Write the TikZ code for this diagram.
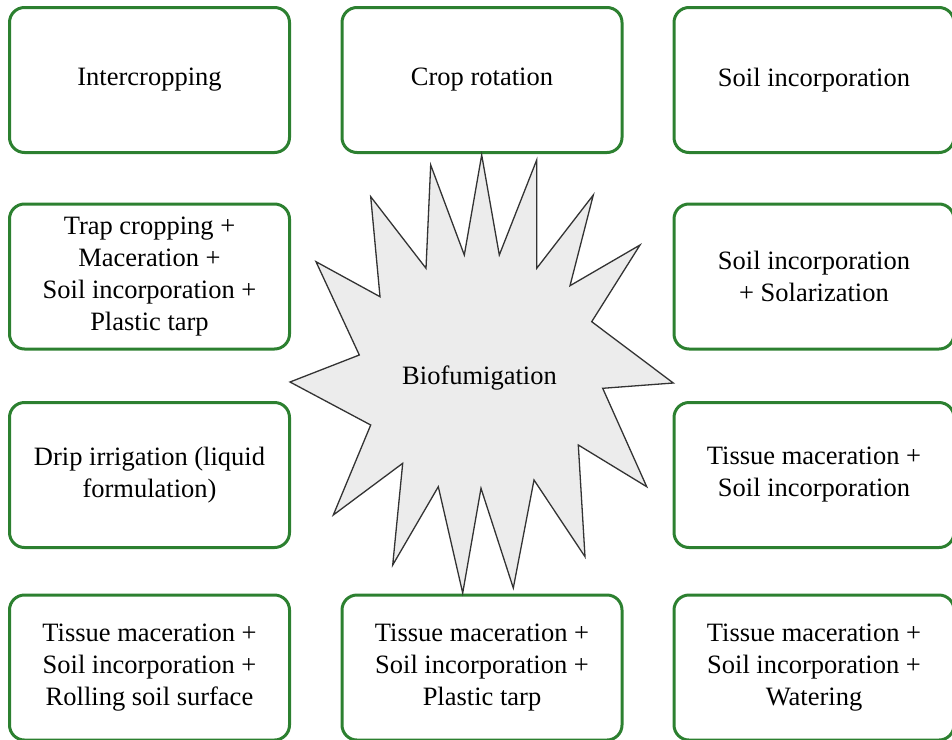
\documentclass[tikz,border=0pt]{standalone}
\usepackage{fontspec}
\setmainfont{Liberation Serif}
\definecolor{boxgreen}{RGB}{44,128,48}
\definecolor{starfill}{RGB}{236,236,236}
\begin{document}
\begin{tikzpicture}[x=1pt, y=-1pt,
  box/.style={draw=boxgreen, line width=3pt, rounded corners=15pt, align=center,
    minimum width=280pt, minimum height=145pt, inner sep=0pt,
    font=\fontsize{26.5}{32}\selectfont},
  burst/.style={draw=black!80, line width=1.3pt, fill=starfill, line join=miter}]
\clip (0,0) rectangle (952,739);
\node[box] (a) at (149.5,80) {Intercropping};
\node[box] (b) at (482,80) {Crop rotation};
\node[box] (c) at (814,80) {Soil incorporation};
\node[box] (d) at (149.5,276.5) {Trap cropping +\\Maceration +\\Soil incorporation +\\Plastic tarp};
\node[box] (e) at (814,276.5) {Soil incorporation\\+ Solarization};
\node[box] (f) at (149.5,475) {Drip irrigation (liquid\\formulation)};
\node[box] (g) at (814,475) {Tissue maceration +\\Soil incorporation};
\node[box] (h) at (149.5,667.5) {Tissue maceration +\\Soil incorporation +\\Rolling soil surface};
\node[box] (i) at (482,667.5) {Tissue maceration +\\Soil incorporation +\\Plastic tarp};
\node[box] (j) at (814,667.5) {Tissue maceration +\\Soil incorporation +\\Watering};
\draw[burst] (481.7,155) -- (499.3,255) -- (536.7,160) -- (536.7,268.3) -- (593.3,195)
  -- (570,285.7) -- (640,245) -- (591.7,321.7) -- (673.3,383) -- (602.7,388.3)
  -- (646.7,486.7) -- (578.3,445) -- (585,556.7) -- (534,480) -- (513.3,588)
  -- (481,488.3) -- (462.7,593) -- (438.3,486.7) -- (392.7,565) -- (402.7,463.3)
  -- (333.3,515) -- (370.7,425) -- (290,382) -- (359.3,355) -- (316,261.7)
  -- (380,296.7) -- (370.7,196.7) -- (426,268.3) -- (430.7,165) -- (464.3,255) -- cycle;
\node[font=\fontsize{26.5}{32}\selectfont] (bio) at (479.5,378) {Biofumigation};
\end{tikzpicture}
\end{document}
